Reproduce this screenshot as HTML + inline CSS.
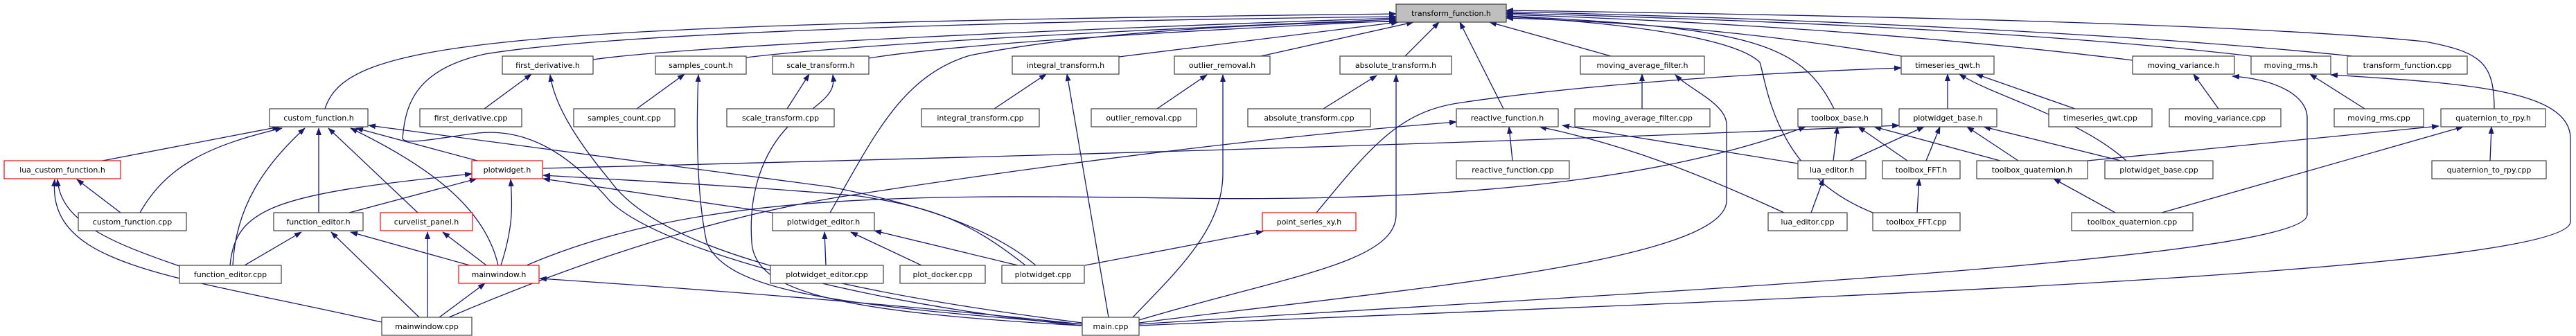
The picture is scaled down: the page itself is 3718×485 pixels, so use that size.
<!DOCTYPE html>
<html><head><meta charset="utf-8"><style>
html,body{margin:0;padding:0;background:#fff;}
svg{display:block;}
text{font-family:"DejaVu Sans","Liberation Sans",sans-serif;font-size:11px;fill:#000;}
.e{fill:none;stroke:#191970;stroke-width:1.3;marker-end:url(#a);}
</style></head><body>
<svg width="3718" height="485" viewBox="0 0 3718 485" xmlns="http://www.w3.org/2000/svg">
<defs><marker id="a" markerUnits="userSpaceOnUse" markerWidth="11" markerHeight="8" refX="10" refY="4" orient="auto"><path d="M0,0 L11,4 L0,8 z" fill="#191970"/></marker></defs>
<g>
<!-- edges to transform_function.h -->
<path class="e" d="M469,157 C500,60 700,35 2015,20"/>
<path class="e" d="M1562,470 C1250,440 950,360 880,290 C820,220 760,185 690,192 C640,198 585,210 581,200 C585,150 600,100 700,78 C900,45 1500,30 2015,24"/>
<path class="e" d="M856,86 C1000,65 1600,40 2015,26"/>
<path class="e" d="M1077,83 C1250,62 1700,40 2015,28"/>
<path class="e" d="M1254,84 C1400,60 1800,40 2015,30"/>
<path class="e" d="M1198,307 C1260,200 1300,110 1400,80 C1600,40 1900,32 2018,31"/>
<path class="e" d="M1615,82 L2018,32"/>
<path class="e" d="M1820,81 L2040,32"/>
<path class="e" d="M2028,81 L2077,32"/>
<path class="e" d="M2170,157 L2107,32"/>
<path class="e" d="M2325,81 L2150,32"/>
<path class="e" d="M2744,81 C2500,40 2300,30 2174,26"/>
<path class="e" d="M2647,157 C2600,60 2520,40 2174,23"/>
<path class="e" d="M2703,307 C2560,250 2550,120 2540,90 C2500,50 2300,30 2174,24"/>
<path class="e" d="M3078,87 C2700,40 2300,25 2174,21"/>
<path class="e" d="M3249,81 C2900,40 2400,25 2174,19"/>
<path class="e" d="M3395,81 C3000,40 2400,22 2174,17"/>
<path class="e" d="M3600,157 C3600,90 3580,75 3500,60 C3200,30 2500,20 2174,15"/>
<!-- cpp to h -->
<path class="e" d="M699,157 L767,107"/>
<path class="e" d="M919,157 L988,107"/>
<path class="e" d="M1136,157 L1168,107"/>
<path class="e" d="M1435,157 L1510,107"/>
<path class="e" d="M1670,157 L1742,108"/>
<path class="e" d="M1910,157 L1987,109"/>
<path class="e" d="M2370,157 L2370,107"/>
<path class="e" d="M2183,232 L2178,183"/>
<path class="e" d="M2995,157 L2852,107"/>
<path class="e" d="M2811,157 L2811,107"/>
<path class="e" d="M3069,232 C3000,170 2880,140 2828,107"/>
<path class="e" d="M3202,157 L3166,107"/>
<path class="e" d="M3413,157 L3334,107"/>
<path class="e" d="M3594,232 L3596,183"/>
<path class="e" d="M3013,232 L3520,182"/>
<path class="e" d="M3120,307 L3555,183"/>
<path class="e" d="M2646,232 L2652,183"/>
<path class="e" d="M2753,232 L2682,183"/>
<path class="e" d="M2887,232 L2705,183"/>
<path class="e" d="M760,383 C1000,280 1300,280 1700,286 C2100,292 2400,260 2606,183"/>
<path class="e" d="M2670,232 L2777,183"/>
<path class="e" d="M2780,232 L2800,183"/>
<path class="e" d="M2913,232 L2839,183"/>
<path class="e" d="M3061,232 L2863,183"/>
<path class="e" d="M784,243 C1500,225 2200,205 2741,181"/>
<path class="e" d="M2614,307 L2632,258"/>
<path class="e" d="M2767,307 L2770,258"/>
<path class="e" d="M3053,307 L2964,258"/>
<path class="e" d="M2575,307 C2450,250 2350,210 2222,183"/>
<path class="e" d="M2595,236 L2255,181"/>
<path class="e" d="M1900,307 C1980,210 2020,160 2110,148 C2300,120 2550,105 2744,98"/>
<path class="e" d="M648,458 C900,350 1100,300 1240,280 C1500,240 1800,200 2102,176"/>
<path class="e" d="M1566,383 L1823,334"/>
<path class="e" d="M1469,383 L1262,333"/>
<path class="e" d="M1330,383 L1228,335"/>
<path class="e" d="M1192,383 L1190,335"/>
<path class="e" d="M1480,383 C1400,320 1350,300 1240,283 C1100,270 900,260 784,253"/>
<path class="e" d="M1115,307 L784,258"/>
<path class="e" d="M1495,383 C1420,320 1300,290 1200,270 L532,181"/>
<!-- main.cpp -->
<path class="e" d="M1562,466 C1200,420 950,360 880,260 C830,200 800,150 794,108"/>
<path class="e" d="M1562,468 C1200,440 1050,420 1020,350 C1005,280 1005,180 1008,108"/>
<path class="e" d="M1562,470 C1200,450 1090,420 1085,350 C1080,280 1100,220 1140,180 C1200,140 1205,130 1202,108"/>
<path class="e" d="M1562,468 C1300,440 1050,420 779,402"/>
<path class="e" d="M1600,458 L1540,107"/>
<path class="e" d="M1635,458 C1700,390 1765,330 1765,250 L1765,108"/>
<path class="e" d="M1644,462 C1850,400 2015,380 2015,310 L2015,108"/>
<path class="e" d="M1644,466 C2000,420 2490,380 2492,290 L2492,180 C2492,150 2440,130 2418,108"/>
<path class="e" d="M1644,468 C2200,430 3330,380 3330,310 L3330,170 C3330,140 3290,115 3222,110"/>
<path class="e" d="M1644,470 C2300,440 3710,400 3710,320 L3710,200 C3710,130 3560,120 3364,108"/>
<!-- left cluster -->
<path class="e" d="M148,232 L403,183"/>
<path class="e" d="M202,307 C240,240 300,210 407,185"/>
<path class="e" d="M336,383 C340,300 380,240 440,185"/>
<path class="e" d="M460,307 L460,185"/>
<path class="e" d="M603,307 L474,185"/>
<path class="e" d="M719,383 C700,300 620,240 506,185"/>
<path class="e" d="M689,232 L514,185"/>
<path class="e" d="M174,307 L111,259"/>
<path class="e" d="M259,384 C160,350 87,320 83,259"/>
<path class="e" d="M551,465 C350,420 237,404 160,370 C90,340 75,300 79,259"/>
<path class="e" d="M332,383 C340,300 395,280 681,251"/>
<path class="e" d="M504,307 L688,258"/>
<path class="e" d="M723,383 C740,330 740,300 737,259"/>
<path class="e" d="M353,383 L435,335"/>
<path class="e" d="M605,458 L478,335"/>
<path class="e" d="M678,383 L506,335"/>
<path class="e" d="M617,458 L617,335"/>
<path class="e" d="M702,383 L639,335"/>
<path class="e" d="M634,458 L700,409"/>
</g>
<g stroke-width="1.2">
<rect x="2015" y="6" width="159" height="26" fill="#bfbfbf" stroke="#404040"/><text x="2094.5" y="23" text-anchor="middle">transform_function.h</text>
</g>
<g fill="#fff" stroke="#404040" stroke-width="1.2">
<rect x="725" y="81" width="131" height="26"/><rect x="946" y="81" width="131" height="26"/><rect x="1115" y="81" width="139" height="26"/><rect x="1461" y="81" width="154" height="26"/><rect x="1695" y="81" width="138" height="26"/><rect x="1934" y="81" width="161" height="26"/><rect x="2281" y="81" width="179" height="26"/><rect x="2744" y="81" width="134" height="26"/><rect x="3078" y="81" width="147" height="26"/><rect x="3249" y="81" width="115" height="26"/><rect x="3388" y="81" width="173" height="26"/>
<rect x="389" y="157" width="142" height="26"/><rect x="606" y="157" width="147" height="26"/><rect x="828" y="157" width="146" height="26"/><rect x="1049" y="157" width="155" height="26"/><rect x="1330" y="157" width="170" height="26"/><rect x="1575" y="157" width="152" height="26"/><rect x="1801" y="157" width="177" height="26"/><rect x="2102" y="157" width="147" height="26"/><rect x="2273" y="157" width="195" height="26"/><rect x="2595" y="157" width="121" height="26"/><rect x="2741" y="157" width="141" height="26"/><rect x="2957" y="157" width="149" height="26"/><rect x="3131" y="157" width="161" height="26"/><rect x="3369" y="157" width="129" height="26"/><rect x="3523" y="157" width="151" height="26"/>
<rect x="2102" y="232" width="163" height="26"/><rect x="2595" y="232" width="98" height="26"/><rect x="2717" y="232" width="112" height="26"/><rect x="2853" y="232" width="160" height="26"/><rect x="3038" y="232" width="156" height="26"/><rect x="3510" y="232" width="165" height="26"/>
<rect x="113" y="307" width="156" height="26"/><rect x="395" y="307" width="129" height="26"/><rect x="1115" y="307" width="147" height="26"/><rect x="2552" y="307" width="114" height="26"/><rect x="2703" y="307" width="126" height="26"/><rect x="2990" y="307" width="175" height="26"/>
<rect x="259" y="383" width="147" height="26"/><rect x="1112" y="383" width="163" height="26"/><rect x="1299" y="383" width="123" height="26"/><rect x="1446" y="383" width="119" height="26"/>
<rect x="551" y="458" width="130" height="26"/><rect x="1562" y="458" width="82" height="26"/>
</g>
<g fill="#fff" stroke="#ff0000" stroke-width="1.2">
<rect x="6" y="232" width="168" height="26"/><rect x="681" y="232" width="102" height="26"/><rect x="549" y="307" width="133" height="26"/><rect x="1822" y="307" width="135" height="26"/><rect x="662" y="383" width="116" height="26"/>
</g>
<g text-anchor="middle">
<text x="790.5" y="98">first_derivative.h</text><text x="1011.5" y="98">samples_count.h</text><text x="1184.5" y="98">scale_transform.h</text><text x="1538" y="98">integral_transform.h</text><text x="1764" y="98">outlier_removal.h</text><text x="2014.5" y="98">absolute_transform.h</text><text x="2370.5" y="98">moving_average_filter.h</text><text x="2811" y="98">timeseries_qwt.h</text><text x="3151.5" y="98">moving_variance.h</text><text x="3306.5" y="98">moving_rms.h</text><text x="3474.5" y="98">transform_function.cpp</text>
<text x="460" y="174">custom_function.h</text><text x="679.5" y="174">first_derivative.cpp</text><text x="901" y="174">samples_count.cpp</text><text x="1126.5" y="174">scale_transform.cpp</text><text x="1415" y="174">integral_transform.cpp</text><text x="1651" y="174">outlier_removal.cpp</text><text x="1889.5" y="174">absolute_transform.cpp</text><text x="2175.5" y="174">reactive_function.h</text><text x="2370.5" y="174">moving_average_filter.cpp</text><text x="2655.5" y="174">toolbox_base.h</text><text x="2811.5" y="174">plotwidget_base.h</text><text x="3031.5" y="174">timeseries_qwt.cpp</text><text x="3211.5" y="174">moving_variance.cpp</text><text x="3433.5" y="174">moving_rms.cpp</text><text x="3598.5" y="174">quaternion_to_rpy.h</text>
<text x="90" y="249">lua_custom_function.h</text><text x="732" y="249">plotwidget.h</text><text x="2183.5" y="249">reactive_function.cpp</text><text x="2644" y="249">lua_editor.h</text><text x="2773" y="249">toolbox_FFT.h</text><text x="2933" y="249">toolbox_quaternion.h</text><text x="3116" y="249">plotwidget_base.cpp</text><text x="3592.5" y="249">quaternion_to_rpy.cpp</text>
<text x="191" y="324">custom_function.cpp</text><text x="459.5" y="324">function_editor.h</text><text x="615.5" y="324">curvelist_panel.h</text><text x="1188.5" y="324">plotwidget_editor.h</text><text x="1889.5" y="324">point_series_xy.h</text><text x="2609" y="324">lua_editor.cpp</text><text x="2766" y="324">toolbox_FFT.cpp</text><text x="3077.5" y="324">toolbox_quaternion.cpp</text>
<text x="332.5" y="400">function_editor.cpp</text><text x="720" y="400">mainwindow.h</text><text x="1193.5" y="400">plotwidget_editor.cpp</text><text x="1360.5" y="400">plot_docker.cpp</text><text x="1505.5" y="400">plotwidget.cpp</text>
<text x="616" y="475">mainwindow.cpp</text><text x="1603" y="475">main.cpp</text>
</g>
</svg>
</body></html>
